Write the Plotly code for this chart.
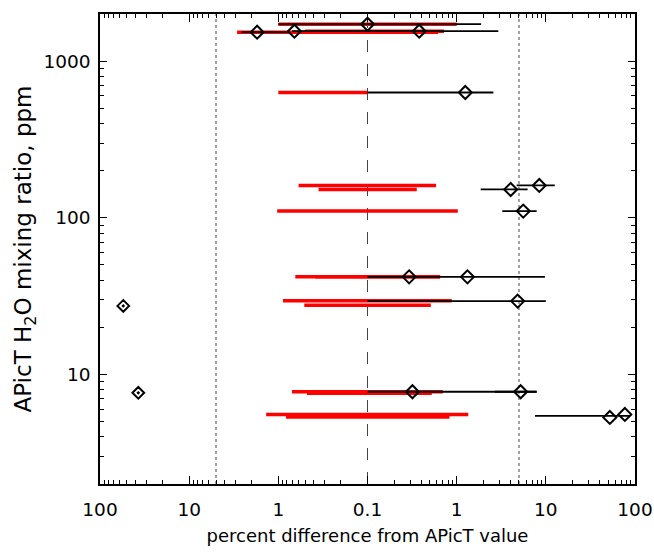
import math
import plotly.graph_objects as go

# ---------------- data (percent difference, signed; ppm) ----------------
pt_ppm  = [1722, 1531, 1553, 1553, 631, 161, 151.7, 110.4, 42.0, 42.0, 29.4, 7.76, 7.76, 5.56, 5.32]
pt_diff = [0.0, -1.73, -0.66, 0.38, 1.25, 8.44, 4.03, 5.58, 0.293, 1.32, 4.83, 0.319, 5.22, 76.9, 52.2]

low_ppm  = [27.4, 7.64]          # isolated points far to the left
low_diff = [-54.8, -37.2]

blk_ppm = [1722, 1531, 1553, 631, 161, 151.7, 110.4, 42.0, 29.4, 7.76, 7.76, 5.44]
blk_lo  = [-1.0, -2.6, -0.7, 0.0, 4.71, 1.86, 3.25, 0.0, 0.0, 0.0, 2.69, 7.55]
blk_hi  = [1.88, -0.79, 2.93, 2.58, 12.6, 6.25, 7.89, 9.77, 10.0, 7.89, 7.89, 87.5]

red_ppm = [1722, 1531, 1553, 631, 161, 151.7, 110.4, 42.0, 42.0, 29.6, 27.7, 7.76, 7.6, 5.56, 5.36]
red_lo  = [-1.0, -2.9, -0.5, -1.0, -0.593, -0.354, -1.03, -0.645, -0.385, -0.886, -0.512, -0.703, -0.477, -1.37, -0.82]
red_hi  = [1.0, 0.62, 0.72, 0.0, 0.588, 0.357, 1.03, 0.652, 0.652, 0.881, 0.513, 0.699, 0.526, 1.35, 0.83]

ref_dotted = [-5, 5]
ref_dashed = [0]

x_tick_vals = [-100, -10, -1, 0.1, 1, 10, 100]
x_tick_text = ["100", "10", "1", "0.1", "1", "10", "100"]
y_tick_vals = [10, 100, 1000]
y_range = [2, 2000]


# ---------------- symmetric log transform around 0.1 % ----------------
def sx(v):
    a = abs(v)
    if a <= 0.1:
        return 0.0
    return math.copysign(math.log10(a / 0.1), v)


def segs(lo, hi, yy):
    xs, ys = [], []
    for a, b, c in zip(lo, hi, yy):
        xs += [sx(a), sx(b), None]
        ys += [c, c, None]
    return xs, ys


FONT = "DejaVu Sans"
fig = go.Figure()

rx, ry = segs(red_lo, red_hi, red_ppm)
fig.add_trace(go.Scatter(x=rx, y=ry, mode="lines", line=dict(color="#ff0000", width=3.5),
                         hoverinfo="skip", showlegend=False))
bx, by = segs(blk_lo, blk_hi, blk_ppm)
fig.add_trace(go.Scatter(x=bx, y=by, mode="lines", line=dict(color="black", width=1.8),
                         hoverinfo="skip", showlegend=False))
fig.add_trace(go.Scatter(x=[sx(v) for v in pt_diff], y=pt_ppm, mode="markers",
                         marker=dict(symbol="diamond-open", size=10, color="black",
                                     line=dict(color="black", width=2)),
                         showlegend=False))
fig.add_trace(go.Scatter(x=[sx(v) for v in low_diff], y=low_ppm, mode="markers",
                         marker=dict(symbol="diamond-open-dot", size=9, color="black",
                                     line=dict(color="black", width=2)),
                         showlegend=False))

for v in ref_dotted:
    fig.add_shape(type="line", xref="x", yref="paper", x0=sx(v), x1=sx(v), y0=0, y1=1,
                  line=dict(color="#444444", width=1, dash="dot"), layer="below")
for v in ref_dashed:
    fig.add_shape(type="line", xref="x", yref="paper", x0=sx(v), x1=sx(v), y0=0, y1=1,
                  line=dict(color="#444444", width=1, dash="12px,12px"), layer="below")

# minor tick positions
x_minor = []
for side in (-1, 1):
    for dec in (0.1, 1, 10):
        for m in range(2, 10):
            x_minor.append(sx(side * m * dec))
y_minor = [m * d for d in (1, 10, 100, 1000) for m in range(2, 10) if 2 <= m * d <= 2000]

fig.update_layout(
    width=654, height=552,
    margin=dict(l=100, r=19, t=14, b=68),
    plot_bgcolor="white", paper_bgcolor="white",
    font=dict(family=FONT, color="black", size=18),
    xaxis=dict(
        automargin=False,
        range=[-3, 3], tickvals=[sx(v) for v in x_tick_vals], ticktext=x_tick_text,
        ticks="inside", ticklen=8, tickwidth=1, tickcolor="black",
        showline=True, linecolor="black", linewidth=1.5, mirror="ticks",
        showgrid=False, zeroline=False,
        minor=dict(tickvals=x_minor, ticks="inside", ticklen=4, tickcolor="black", showgrid=False),
        tickfont=dict(size=18.5), ticklabelstandoff=8,
        title=dict(text="percent difference from APicT value", font=dict(size=18), standoff=10),
    ),
    yaxis=dict(
        automargin=False,
        type="log", range=[math.log10(y_range[0]), math.log10(y_range[1])],
        tickvals=y_tick_vals, ticktext=[str(v) for v in y_tick_vals],
        ticks="inside", ticklen=7, tickwidth=1, tickcolor="black",
        showline=True, linecolor="black", linewidth=1.5, mirror="ticks",
        showgrid=False, zeroline=False,
        minor=dict(tickvals=y_minor, ticks="inside", ticklen=4, tickcolor="black", showgrid=False),
        tickfont=dict(size=18.5), ticklabelstandoff=4,
        title=dict(text="APicT H<sub>2</sub>O mixing ratio, ppm", font=dict(size=23), standoff=5),
    ),
)

# remove the page's default body margin so the figure fills the 654x552 window exactly
fig.write_html("out.html",
               config={"displayModeBar": False},
               post_script="document.body.style.margin='0';document.body.style.overflow='hidden';")
